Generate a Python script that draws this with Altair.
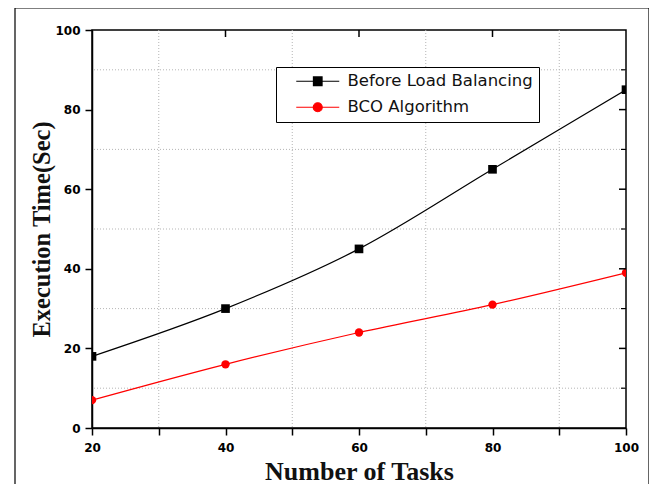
import altair as alt
import pandas as pd

tasks = [20, 40, 60, 80, 100]
before_lb = [18, 30, 45, 65, 85]
bco = [7, 16, 24, 31, 39]
series_names = ["Before Load Balancing", "BCO Algorithm"]
series_colors = ["#000000", "#ff0000"]
x_ticks = [20, 30, 40, 50, 60, 70, 80, 90, 100]
y_ticks = [0, 10, 20, 30, 40, 50, 60, 70, 80, 90, 100]
x_grid = [30, 50, 70, 90]
y_grid = [10, 30, 50, 70, 90]
x_major = [40, 60, 80]
y_major = [20, 40, 60, 80]
y_minor = [10, 30, 50, 70, 90]

W, H = 534, 398

rows = []
for t, b, c in zip(tasks, before_lb, bco):
    rows.append({"tasks": t, "time": b, "series": series_names[0]})
    rows.append({"tasks": t, "time": c, "series": series_names[1]})
df = pd.DataFrame(rows)

xs = alt.Scale(domain=[20, 100], nice=False, zero=False)
ys = alt.Scale(domain=[0, 100], nice=False)
cs = alt.Scale(domain=series_names, range=series_colors)

sq_path = "M1.2,0H9.8M4.64,-0.86H6.36V0.86H4.64Z"
ci_path = "M1.2,0H9.8M6.4,0A0.9,0.9,0,1,1,4.6,0A0.9,0.9,0,1,1,6.4,0Z"

gridx = alt.Chart(pd.DataFrame({"g": x_grid})).mark_rule(
    color="#b5b5b5", strokeDash=[1, 2], strokeWidth=1
).encode(x=alt.X("g:Q", scale=xs))
gridy = alt.Chart(pd.DataFrame({"g": y_grid})).mark_rule(
    color="#b5b5b5", strokeDash=[1, 2], strokeWidth=1
).encode(y=alt.Y("g:Q", scale=ys))

top_ticks = alt.Chart(pd.DataFrame({"t": x_major})).mark_rule(
    color="black", strokeWidth=1.5
).encode(x=alt.X("t:Q", scale=xs), y=alt.value(0), y2=alt.value(7))
right_ticks = alt.Chart(pd.DataFrame({"t": y_major})).mark_rule(
    color="black", strokeWidth=1.5
).encode(y=alt.Y("t:Q", scale=ys), x=alt.value(W - 7), x2=alt.value(W))
right_minor = alt.Chart(pd.DataFrame({"t": y_minor})).mark_rule(
    color="black", strokeWidth=1.2
).encode(y=alt.Y("t:Q", scale=ys), x=alt.value(W - 5), x2=alt.value(W))

base = alt.Chart(df)

lines = base.mark_line(strokeWidth=1.2, interpolate="monotone", clip=True).encode(
    x=alt.X(
        "tasks:Q",
        scale=xs,
        axis=alt.Axis(
            values=x_ticks,
            labelExpr="datum.value % 20 == 0 ? datum.label : ''",
            title="Number of Tasks",
            grid=False,
        ),
    ),
    y=alt.Y(
        "time:Q",
        scale=ys,
        axis=alt.Axis(
            values=y_ticks,
            labelExpr="datum.value % 20 == 0 ? datum.label : ''",
            title="Execution Time(Sec)",
            grid=False,
        ),
    ),
    color=alt.Color("series:N", scale=cs),
    detail="series:N",
)

points_sq = base.transform_filter(
    alt.datum.series == series_names[0]
).mark_point(filled=True, shape="square", size=75, opacity=1, clip=True).encode(
    x=alt.X("tasks:Q", scale=xs),
    y=alt.Y("time:Q", scale=ys),
    color=alt.Color("series:N", scale=cs),
)
points_ci = base.transform_filter(
    alt.datum.series == series_names[1]
).mark_point(filled=True, shape="circle", size=70, opacity=1, clip=True).encode(
    x=alt.X("tasks:Q", scale=xs),
    y=alt.Y("time:Q", scale=ys),
    color=alt.Color("series:N", scale=cs),
)

leg = alt.Legend(
    title=None,
    orient="none",
    legendX=184,
    legendY=37,
    strokeColor="black",
    fillColor="white",
    padding=6,
    labelFont="DejaVu Sans",
    labelFontSize=16.5,
    labelColor="#111111",
    labelLimit=400,
    symbolSize=100,
    symbolStrokeWidth=1.2,
    symbolOpacity=1,
    rowPadding=9,
    labelOffset=49,
)

legend_layer = base.mark_point(filled=False, opacity=0, size=1).encode(
    x=alt.X("tasks:Q", scale=xs),
    y=alt.Y("time:Q", scale=ys),
    color=alt.Color("series:N", scale=cs, legend=leg),
    fill=alt.Fill("series:N", scale=cs, legend=leg),
    shape=alt.Shape(
        "series:N",
        scale=alt.Scale(domain=series_names, range=[sq_path, ci_path]),
        legend=leg,
    ),
)

frame = alt.Chart(alt.Data(values=[{}])).mark_rect(
    fill=None, stroke="black", strokeWidth=1.2, clip=False
).encode(
    x=alt.value(-77), x2=alt.value(557), y=alt.value(-22), y2=alt.value(470)
)

chart = alt.layer(
    frame, gridx, gridy, lines, points_sq, points_ci, legend_layer,
    top_ticks, right_ticks, right_minor
).properties(
    width=W,
    height=H,
    autosize=alt.AutoSizeParams(type="none"),
    padding={"left": 84, "top": 22, "right": 23, "bottom": 56},
).configure_view(
    stroke="black", strokeWidth=1.5
).configure_axis(
    domainColor="black",
    domainWidth=1.5,
    tickColor="black",
    tickWidth=1.5,
    tickSize=7,
    labelFont="DejaVu Sans",
    labelFontWeight="bold",
    labelFontSize=12,
    labelColor="black",
    labelFlush=False,
    titleFont="Liberation Serif",
    titleFontWeight="bold",
    titleColor="#111111",
).configure_axisX(
    labelPadding=7,
    titleFontSize=26,
    titleX=267,
    titleY=51,
    titleBaseline="alphabetic",
).configure_axisY(
    labelPadding=5,
    titleFontSize=24.5,
    titleX=-50,
    titleY=199,
    titleAngle=-90,
    titleBaseline="middle",
    titleAlign="center",
)

chart.save("out.html", embed_options={"renderer": "svg", "actions": False})
